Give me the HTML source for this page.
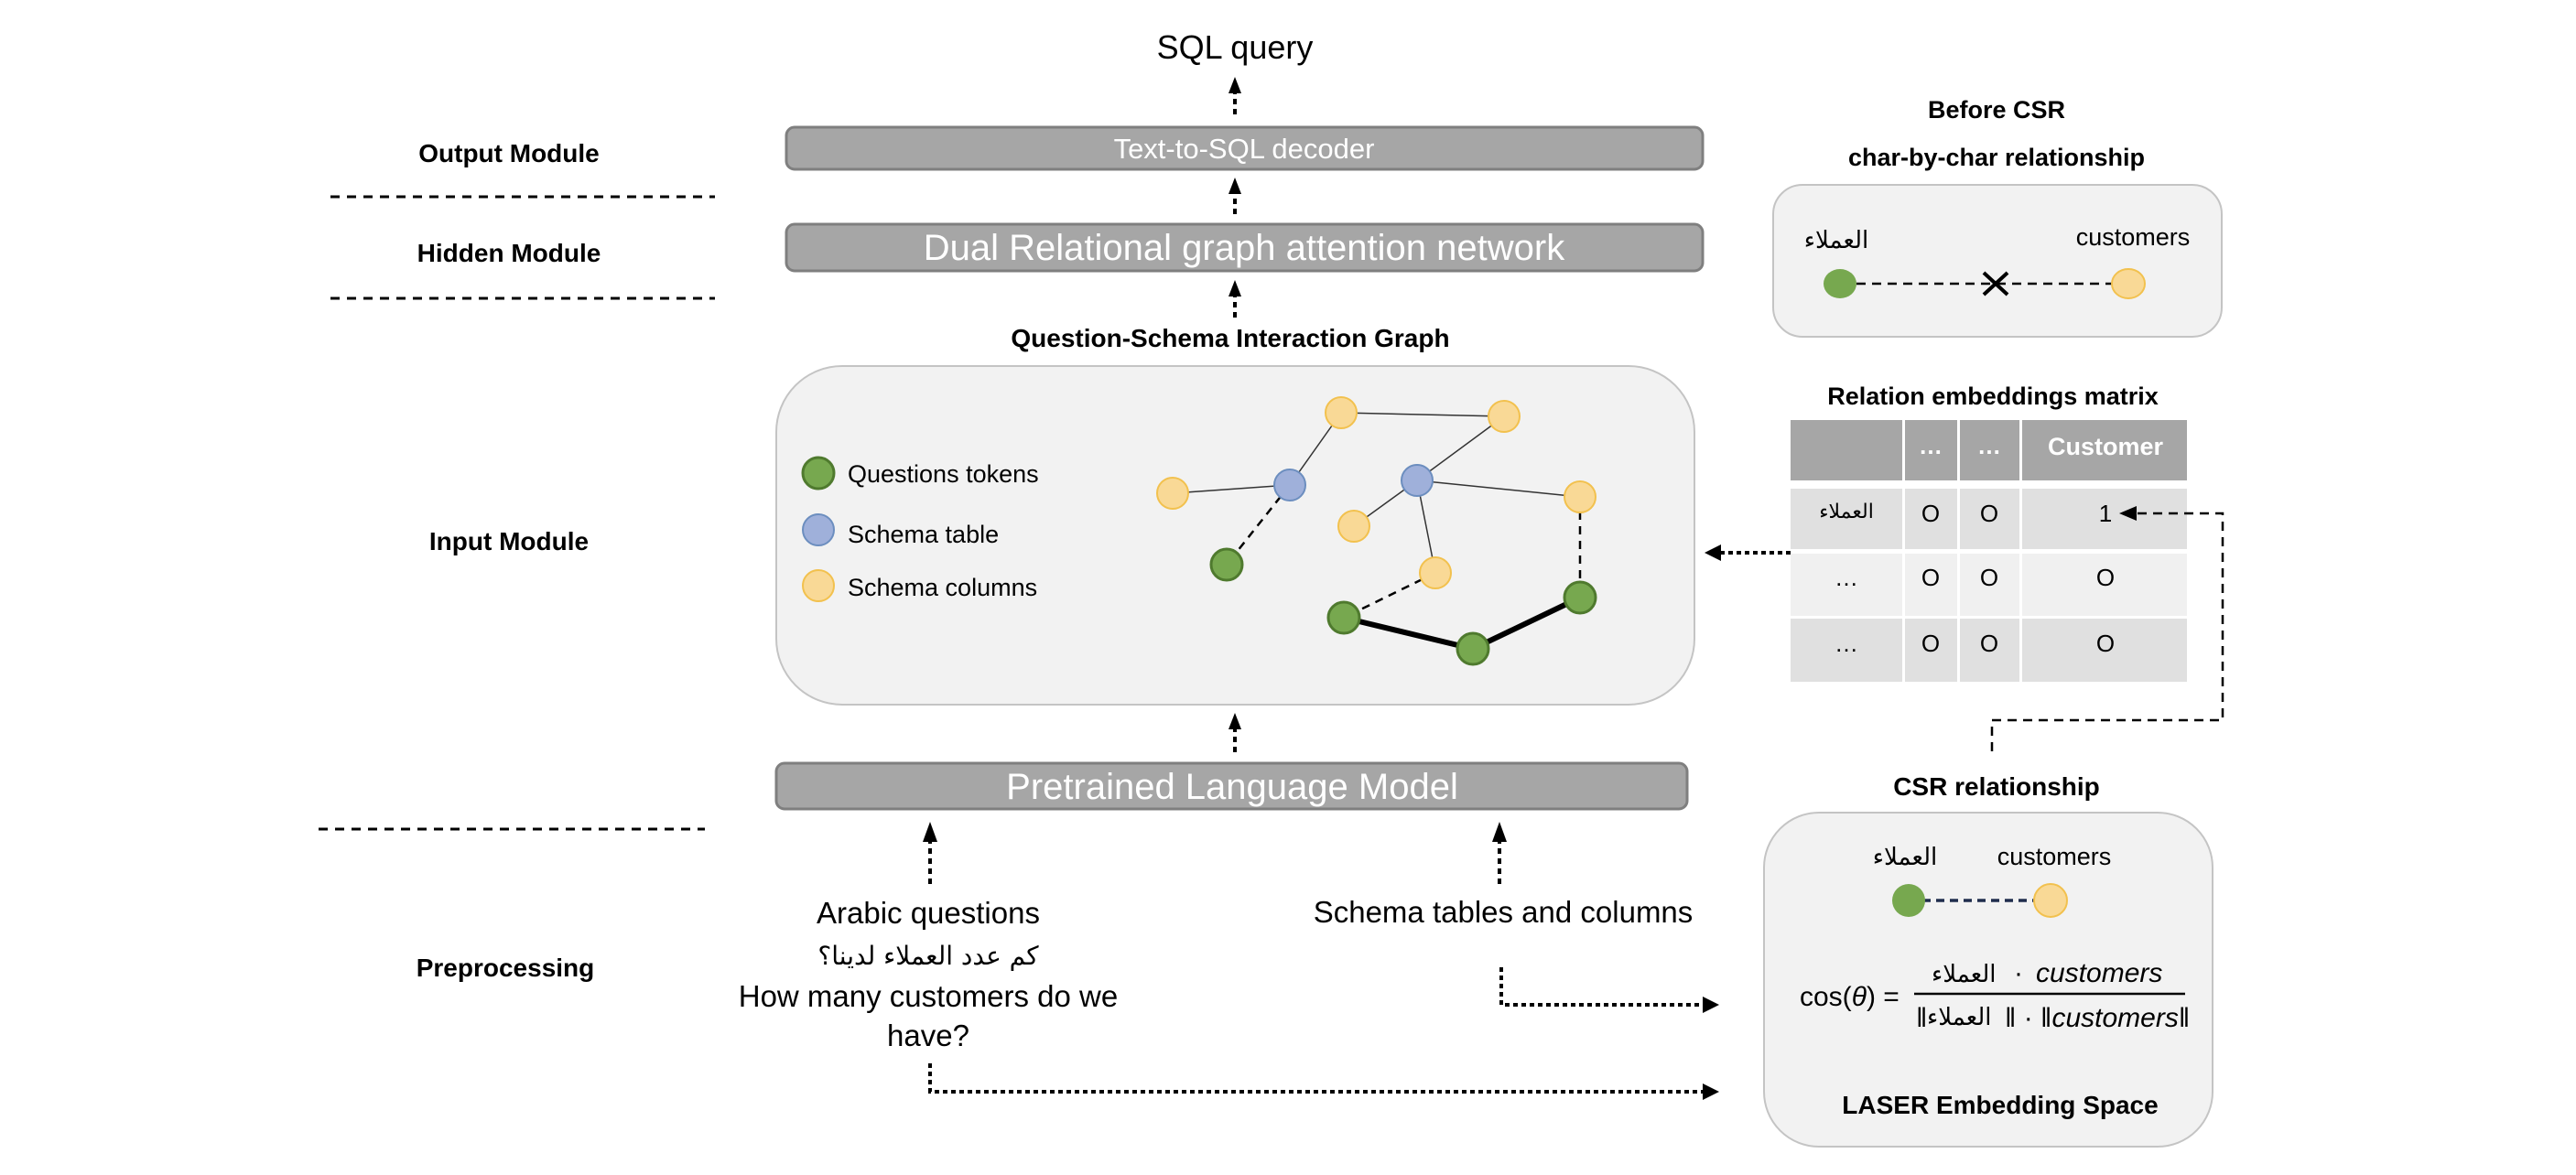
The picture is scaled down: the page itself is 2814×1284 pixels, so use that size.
<!DOCTYPE html>
<html><head><meta charset="utf-8"><style>
html,body{margin:0;padding:0;background:#fff;}
svg{display:block;}
text{font-family:"Liberation Sans","DejaVu Sans",sans-serif;}
.ar{font-family:"DejaVu Sans","Noto Sans CJK SC",sans-serif;}
</style></head><body>
<svg width="2814" height="1284" viewBox="0 0 2814 1284" xmlns="http://www.w3.org/2000/svg">
<rect width="2814" height="1284" fill="#fff"/>

<g font-size="28" font-weight="bold" text-anchor="middle" fill="#000">
<text x="556" y="177">Output Module</text>
<text x="556" y="286">Hidden Module</text>
<text x="556" y="601">Input Module</text>
<text x="552" y="1067">Preprocessing</text>
</g>
<g stroke="#000" stroke-width="3" stroke-dasharray="10 8">
<line x1="361" y1="215" x2="781" y2="215"/>
<line x1="361" y1="326" x2="781" y2="326"/>
<line x1="348" y1="906" x2="770" y2="906"/>
</g>

<text x="1349" y="64" font-size="36" text-anchor="middle">SQL query</text>
<rect x="859" y="139" width="1001" height="46" rx="9" fill="#a6a6a6" stroke="#7f7f7f" stroke-width="3"/>
<text x="1359" y="173" font-size="31" fill="#fff" text-anchor="middle">Text-to-SQL decoder</text>
<rect x="859" y="245" width="1001" height="51" rx="9" fill="#a6a6a6" stroke="#7f7f7f" stroke-width="3"/>
<text x="1359" y="284" font-size="40" fill="#fff" text-anchor="middle">Dual Relational graph attention network</text>
<text x="1344" y="379" font-size="28" font-weight="bold" text-anchor="middle">Question-Schema Interaction Graph</text>

<g stroke="#000" stroke-width="4" stroke-dasharray="6 5">
<line x1="1349" y1="125" x2="1349" y2="100"/>
<line x1="1349" y1="234" x2="1349" y2="210"/>
<line x1="1349" y1="347" x2="1349" y2="322"/>
<line x1="1349" y1="822" x2="1349" y2="796"/>
<line x1="1016" y1="966" x2="1016" y2="918"/>
<line x1="1638" y1="966" x2="1638" y2="918"/>
</g>
<g fill="#000">
<polygon points="1349,84 1342,102 1356,102"/>
<polygon points="1349,194 1342,212 1356,212"/>
<polygon points="1349,306 1342,324 1356,324"/>
<polygon points="1349,779 1342,797 1356,797"/>
<polygon points="1016,898 1008,920 1024,920"/>
<polygon points="1638,898 1630,920 1646,920"/>
</g>

<rect x="848" y="400" width="1003" height="370" rx="72" fill="#f2f2f2" stroke="#c4c4c4" stroke-width="2"/>
<g stroke="#333" stroke-width="1.5">
<line x1="1465" y1="451" x2="1643" y2="455"/>
<line x1="1465" y1="451" x2="1409" y2="530"/>
<line x1="1281" y1="539" x2="1409" y2="530"/>
<line x1="1643" y1="455" x2="1548" y2="525"/>
<line x1="1548" y1="525" x2="1726" y2="543"/>
<line x1="1548" y1="525" x2="1479" y2="575"/>
<line x1="1548" y1="525" x2="1568" y2="626"/>
</g>
<g stroke="#000" stroke-width="2.5" stroke-dasharray="9 7">
<line x1="1409" y1="530" x2="1340" y2="617"/>
<line x1="1568" y1="626" x2="1468" y2="675"/>
<line x1="1726" y1="543" x2="1726" y2="653"/>
</g>
<g stroke="#000" stroke-width="6">
<line x1="1468" y1="675" x2="1609" y2="709"/>
<line x1="1609" y1="709" x2="1726" y2="653"/>
</g>
<g stroke-width="2">
<g fill="#f9d996" stroke="#f2c14e">
<circle cx="1465" cy="451" r="17"/><circle cx="1643" cy="455" r="17"/>
<circle cx="1281" cy="539" r="17"/><circle cx="1726" cy="543" r="17"/>
<circle cx="1479" cy="575" r="17"/><circle cx="1568" cy="626" r="17"/>
<circle cx="894" cy="640" r="17"/>
</g>
<g fill="#9fb0da" stroke="#6c8ebf">
<circle cx="1409" cy="530" r="17"/><circle cx="1548" cy="525" r="17"/>
<circle cx="894" cy="579" r="17"/>
</g>
<g fill="#77a84f" stroke="#4f7a2e" stroke-width="3">
<circle cx="1340" cy="617" r="17"/><circle cx="1468" cy="675" r="17"/>
<circle cx="1609" cy="709" r="17"/><circle cx="1726" cy="653" r="17"/>
<circle cx="894" cy="517" r="17"/>
</g>
</g>
<g font-size="27">
<text x="926" y="527">Questions tokens</text>
<text x="926" y="593">Schema table</text>
<text x="926" y="651">Schema columns</text>
</g>

<rect x="848" y="834" width="995" height="50" rx="9" fill="#a6a6a6" stroke="#7f7f7f" stroke-width="3"/>
<text x="1346" y="873" font-size="40" fill="#fff" text-anchor="middle">Pretrained Language Model</text>

<g font-size="33" text-anchor="middle">
<text x="1014" y="1009">Arabic questions</text>
<text x="1014" y="1054" class="ar" direction="rtl" unicode-bidi="plaintext" font-size="28">كم عدد العملاء لدينا؟</text>
<text x="1014" y="1100">How many customers do we</text>
<text x="1014" y="1143">have?</text>
<text x="1642" y="1008">Schema tables and columns</text>
</g>
<g stroke="#000" stroke-width="4" stroke-dasharray="5 4" fill="none">
<polyline points="1640,1057 1640,1098 1862,1098"/>
<polyline points="1016,1162 1016,1193 1862,1193"/>
<line x1="1956" y1="604" x2="1880" y2="604"/>
</g>
<g fill="#000">
<polygon points="1878,1098 1860,1089 1860,1107"/>
<polygon points="1878,1193 1860,1184 1860,1202"/>
<polygon points="1862,604 1880,595 1880,613"/>
</g>

<text x="2181" y="129" font-size="27" font-weight="bold" text-anchor="middle">Before CSR</text>
<text x="2181" y="181" font-size="27" font-weight="bold" text-anchor="middle">char-by-char relationship</text>
<rect x="1937" y="202" width="490" height="166" rx="32" fill="#f2f2f2" stroke="#c4c4c4" stroke-width="2"/>
<text x="2006" y="271" class="ar" font-size="26" text-anchor="middle">العملاء</text>
<text x="2330" y="268" font-size="27" text-anchor="middle">customers</text>
<line x1="2028" y1="310" x2="2312" y2="310" stroke="#000" stroke-width="2.5" stroke-dasharray="10 7"/>
<ellipse cx="2010" cy="310" rx="18" ry="16" fill="#77a84f"/>
<ellipse cx="2325" cy="310" rx="18" ry="16" fill="#f9d996" stroke="#f2c14e" stroke-width="2"/>
<g stroke="#000" stroke-width="4"><line x1="2167" y1="298" x2="2193" y2="322"/><line x1="2193" y1="298" x2="2167" y2="322"/></g>

<text x="2177" y="442" font-size="27" font-weight="bold" text-anchor="middle">Relation embeddings matrix</text>
<g>
<rect x="1956" y="459" width="122" height="66" fill="#a6a6a6"/>
<rect x="2081" y="459" width="57" height="66" fill="#a6a6a6"/>
<rect x="2141" y="459" width="65" height="66" fill="#a6a6a6"/>
<rect x="2209" y="459" width="180" height="66" fill="#a6a6a6"/>
<rect x="1956" y="534" width="122" height="66" fill="#e0e0e0"/>
<rect x="2081" y="534" width="57" height="66" fill="#e0e0e0"/>
<rect x="2141" y="534" width="65" height="66" fill="#e0e0e0"/>
<rect x="2209" y="534" width="180" height="66" fill="#e0e0e0"/>
<rect x="1956" y="605" width="122" height="68" fill="#f0f0f0"/>
<rect x="2081" y="605" width="57" height="68" fill="#f0f0f0"/>
<rect x="2141" y="605" width="65" height="68" fill="#f0f0f0"/>
<rect x="2209" y="605" width="180" height="68" fill="#f0f0f0"/>
<rect x="1956" y="676" width="122" height="69" fill="#e0e0e0"/>
<rect x="2081" y="676" width="57" height="69" fill="#e0e0e0"/>
<rect x="2141" y="676" width="65" height="69" fill="#e0e0e0"/>
<rect x="2209" y="676" width="180" height="69" fill="#e0e0e0"/>
</g>
<g font-size="26" text-anchor="middle">
<text x="2109" y="496" fill="#fff" font-weight="bold">…</text>
<text x="2173" y="496" fill="#fff" font-weight="bold">…</text>
<text x="2300" y="497" fill="#fff" font-weight="bold" font-size="27">Customer</text>
<text x="2017" y="566" class="ar" font-size="22">العملاء</text>
<text x="2109" y="570">O</text><text x="2173" y="570">O</text><text x="2300" y="570">1</text>
<text x="2017" y="640">…</text><text x="2109" y="640">O</text><text x="2173" y="640">O</text><text x="2300" y="640">O</text>
<text x="2017" y="712">…</text><text x="2109" y="712">O</text><text x="2173" y="712">O</text><text x="2300" y="712">O</text>
</g>
<polyline points="2335,561 2428,561 2428,787 2176,787 2176,823" fill="none" stroke="#000" stroke-width="2.5" stroke-dasharray="10 7"/>
<polygon points="2315,561 2334,553 2334,569" fill="#000"/>

<text x="2181" y="869" font-size="28" font-weight="bold" text-anchor="middle">CSR relationship</text>
<rect x="1927" y="888" width="490" height="365" rx="60" fill="#f2f2f2" stroke="#c4c4c4" stroke-width="2"/>
<text x="2081" y="945" class="ar" font-size="26" text-anchor="middle">العملاء</text>
<text x="2244" y="945" font-size="27" text-anchor="middle">customers</text>
<line x1="2100" y1="984" x2="2222" y2="984" stroke="#1f2d4d" stroke-width="3.5" stroke-dasharray="9 6"/>
<ellipse cx="2085" cy="984" rx="18" ry="18" fill="#77a84f"/>
<ellipse cx="2240" cy="984" rx="18" ry="18" fill="#f9d996" stroke="#f2c14e" stroke-width="2"/>
<g font-family="'Liberation Serif',serif" font-size="30">
<text x="1966" y="1099">cos(<tspan font-style="italic">θ</tspan>) =</text>
<text x="2110" y="1073" class="ar" font-size="26">العملاء</text>
<text x="2200" y="1073">·</text>
<text x="2224" y="1073" font-style="italic">customers</text>
<text x="2093" y="1122">‖</text>
<text x="2105" y="1120" class="ar" font-size="26">العملاء</text>
<text x="2190" y="1122">‖ · ‖<tspan font-style="italic">customers</tspan>‖</text>
</g>
<line x1="2091" y1="1086" x2="2387" y2="1086" stroke="#000" stroke-width="2.5"/>
<text x="2185" y="1217" font-size="28" font-weight="bold" text-anchor="middle">LASER Embedding Space</text>
</svg>
</body></html>
